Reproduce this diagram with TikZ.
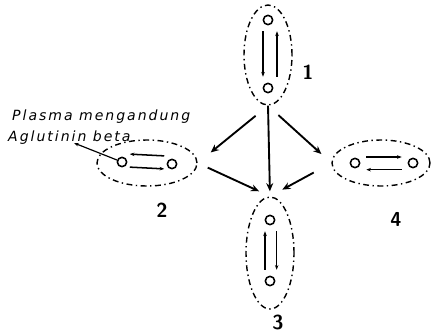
\documentclass[tikz,border=0pt]{standalone}
\usepackage{fontspec}
\newfontfamily\notefont[LetterSpace=14, ItalicFont=DejaVu Sans Oblique]{DejaVu Sans}
\usetikzlibrary{shapes.geometric,arrows.meta}
\begin{document}
\begin{tikzpicture}[x=0.03cm,y=-0.03cm]
\tikzstyle{group} = [ellipse, draw=black, line width=1.2pt, inner sep=0pt, dash pattern=on 5pt off 3pt on 1.2pt off 3pt]
\tikzstyle{cell}  = [circle, draw=black, line width=1.3pt, minimum size=0.28cm, inner sep=0pt]
\tikzstyle{flow}  = [-{Stealth[length=7pt, width=6pt]}, line width=1.6pt]
\tikzstyle{swap}  = [-{Stealth[length=4pt, width=3pt]}, line width=1.3pt, shorten <=5pt, shorten >=5pt]
\tikzstyle{num}   = [font=\sffamily\bfseries\LARGE]
\tikzstyle{note}  = [anchor=west, inner sep=0pt, font=\notefont\itshape\large]
\useasboundingbox (0,0) rectangle (433,333);
% groups
\node[group, minimum width=1.44cm, minimum height=3.00cm] at (268,55) (e1) {};
\node[group, minimum width=3.00cm, minimum height=1.38cm] at (147,163) (e2) {};
\node[group, minimum width=1.44cm, minimum height=3.36cm] at (270,253) (e3) {};
\node[group, minimum width=2.94cm, minimum height=1.38cm] at (381,163) (e4) {};
% cells
\node[cell] at (268,20) (c1a) {};
\node[cell] at (268,88) (c1b) {};
\node[cell] at (122,162) (c2a) {};
\node[cell] at (172,164) (c2b) {};
\node[cell] at (270,220) (c3a) {};
\node[cell] at (270,281) (c3b) {};
\node[cell] at (355,163) (c4a) {};
\node[cell] at (413,163) (c4b) {};
% exchange inside the groups
\draw[swap] ([xshift=-0.15cm]c1a.south) -- ([xshift=-0.15cm]c1b.north);
\draw[swap] ([xshift=0.27cm]c1b.north) -- ([xshift=0.27cm]c1a.south);
\draw[swap, shorten <=2pt, shorten >=2pt] ([yshift=0.24cm]c2b.west) -- ([yshift=0.24cm]c2a.east);
\draw[swap, shorten <=2pt, shorten >=2pt] ([yshift=-0.15cm]c2a.east) -- ([yshift=-0.15cm]c2b.west);
\draw[swap] ([xshift=-0.15cm]c3b.north) -- ([xshift=-0.15cm]c3a.south);
\draw[swap] ([xshift=0.2cm]c3a.south) -- ([xshift=0.2cm]c3b.north);
\draw[swap] ([yshift=0.18cm]c4a.east) -- ([yshift=0.18cm]c4b.west);
\draw[swap] ([yshift=-0.2cm]c4b.west) -- ([yshift=-0.2cm]c4a.east);
% flows between groups
\draw[flow, shorten <=0.48cm, shorten >=0.5cm] (e1.south) -- (e2.east);
\draw[flow, shorten >=0.15cm] (e1.south) -- (e3.north);
\draw[flow, shorten <=0.42cm, shorten >=0.4cm] (e1.south) -- (e4.west);
\draw[flow, shorten <=0.33cm, shorten >=0.36cm] (e2.east) -- (e3.north);
\draw[flow, shorten <=0.6cm, shorten >=0.42cm] (e4.west) -- (e3.north);
% numbers
\node[num] at (308,72) (n1) {1};
\node[num] at (162,210) (n2) {2};
\node[num] at (278,322) (n3) {3};
\node[num] at (396,219) (n4) {4};
% note
\node[note] at (12,117) (note1) {Plasma mengandung};
\node[note] at (8,138) (note2) {Aglutinin beta};
\coordinate (tip) at (74,143);
\draw[-{Stealth[length=4pt, width=3pt]}, line width=1pt] (c2a) -- (tip);
\end{tikzpicture}
\end{document}
